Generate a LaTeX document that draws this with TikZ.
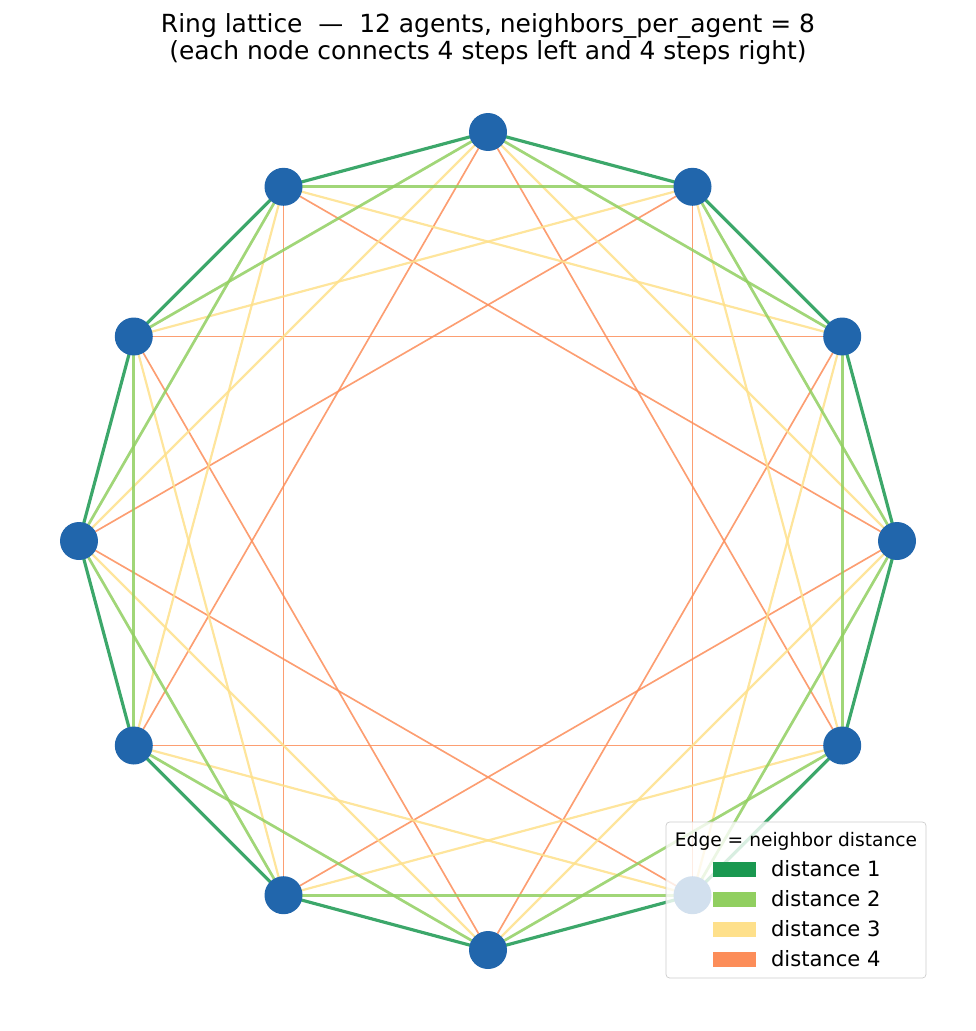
\documentclass[tikz,border=0pt]{standalone}
\usepackage{fontspec}
\setmainfont{DejaVu Sans}
\usetikzlibrary{positioning}
\definecolor{agentblue}{HTML}{2166AC}
\definecolor{dist1}{HTML}{1A9850}
\definecolor{dist2}{HTML}{91CF60}
\definecolor{dist3}{HTML}{FEE08B}
\definecolor{dist4}{HTML}{FC8D59}
\def\ringrad{409}

\begin{document}
\begin{tikzpicture}[x=0.02cm,y=-0.02cm]
    \tikzstyle{agent}=[circle,fill=agentblue,minimum size=0.76cm,inner sep=0pt]
    \tikzstyle{edge1}=[draw=dist1,opacity=0.85,line width=1.8pt]
    \tikzstyle{edge2}=[draw=dist2,opacity=0.85,line width=1.55pt]
    \tikzstyle{edge3}=[draw=dist3,opacity=0.85,line width=1.25pt]
    \tikzstyle{edge4}=[draw=dist4,opacity=0.85,line width=0.95pt]
    \tikzstyle{swatch}=[minimum width=0.86cm,minimum height=0.3cm,inner sep=0pt]
    \useasboundingbox (0,0) rectangle (975,1031);

    % Title
    \node (t1) at (488,26) {\fontsize{14.2}{16}\selectfont Ring lattice \ --- \ 12 agents, neighbors\_per\_agent = 8};
    \node (t2) at (488,53) {\fontsize{14.2}{16}\selectfont (each node connects 4 steps left and 4 steps right)};

    % Place the agents on the ring
    \foreach \i in {0,...,11}
        \coordinate (n-\i) at ({488+\ringrad*cos(90-30*\i)},{541-\ringrad*sin(90-30*\i)});

    % Connect each agent to its neighbors, far ones first
    \foreach \d in {4,3,2,1}
        \foreach \i in {0,...,11}
        {
            \pgfmathtruncatemacro{\j}{mod(\i+\d,12)}
            \draw[edge\d] (n-\i) -- (n-\j);
        }

    % Draw the agents
    \foreach \i in {0,...,11}
        \node[agent] (a-\i) at (n-\i) {};

    % Legend
    \node[draw=black!20,fill=white,fill opacity=0.8,text opacity=1,rounded corners=2pt,
          minimum width=5.2cm,minimum height=3.12cm] (leg) at (796,900) {};
    \node[below=0.08cm of leg.north] (lt) {\fontsize{10.6}{12}\selectfont Edge = neighbor distance};
    \foreach \d in {1,...,4}
    {
        \node[swatch,fill=dist\d] (s-\d) at (734,839+\d*30) {};
        \node[right=0.18cm of s-\d,anchor=west] (l-\d) {\fontsize{12}{14}\selectfont distance \d};
    }
\end{tikzpicture}
\end{document}
